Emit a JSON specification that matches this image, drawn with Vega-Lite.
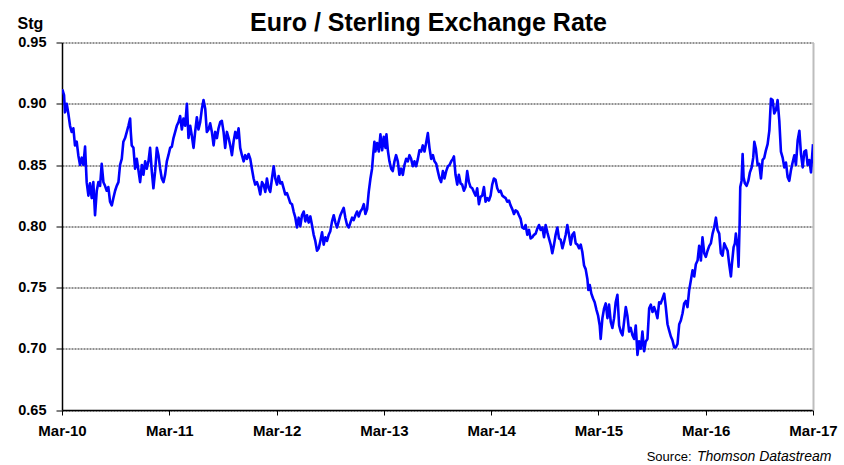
{
  "$schema": "https://vega.github.io/schema/vega-lite/v6.json",
  "autosize": {"type": "none"},
  "width": 751,
  "height": 367.5,
  "padding": {"left": 62, "top": 42.5, "right": 31, "bottom": 55},
  "background": "white",
  "config": {"view": {"stroke": null}, "font": "Liberation Sans"},
  "title": {"text": "Euro / Sterling Exchange Rate", "font": "Liberation Sans", "fontSize": 25, "fontWeight": "bold", "color": "#000000", "anchor": "middle", "offset": 10, "dx": -9, "dy": 31},
  "data": {"values": [
    {"t":2010.162,"v":0.911},{"t":2010.168,"v":0.911},{"t":2010.181,"v":0.907},{"t":2010.190,"v":0.893},{"t":2010.206,"v":0.900},{"t":2010.221,"v":0.892},{"t":2010.237,"v":0.882},{"t":2010.252,"v":0.877},{"t":2010.268,"v":0.880},{"t":2010.283,"v":0.866},{"t":2010.299,"v":0.869},{"t":2010.314,"v":0.858},{"t":2010.330,"v":0.850},{"t":2010.346,"v":0.856},{"t":2010.361,"v":0.850},{"t":2010.377,"v":0.865},{"t":2010.392,"v":0.836},{"t":2010.408,"v":0.825},{"t":2010.423,"v":0.835},{"t":2010.439,"v":0.823},{"t":2010.454,"v":0.836},{"t":2010.470,"v":0.809},{"t":2010.486,"v":0.829},{"t":2010.501,"v":0.836},{"t":2010.517,"v":0.833},{"t":2010.532,"v":0.851},{"t":2010.548,"v":0.836},{"t":2010.563,"v":0.833},{"t":2010.579,"v":0.829},{"t":2010.594,"v":0.832},{"t":2010.610,"v":0.820},{"t":2010.626,"v":0.817},{"t":2010.641,"v":0.823},{"t":2010.657,"v":0.829},{"t":2010.672,"v":0.833},{"t":2010.688,"v":0.836},{"t":2010.703,"v":0.850},{"t":2010.719,"v":0.855},{"t":2010.734,"v":0.869},{"t":2010.750,"v":0.872},{"t":2010.766,"v":0.877},{"t":2010.781,"v":0.882},{"t":2010.797,"v":0.888},{"t":2010.803,"v":0.877},{"t":2010.812,"v":0.866},{"t":2010.828,"v":0.864},{"t":2010.843,"v":0.847},{"t":2010.859,"v":0.855},{"t":2010.874,"v":0.846},{"t":2010.890,"v":0.836},{"t":2010.906,"v":0.850},{"t":2010.921,"v":0.842},{"t":2010.937,"v":0.853},{"t":2010.952,"v":0.847},{"t":2010.968,"v":0.853},{"t":2010.983,"v":0.864},{"t":2010.999,"v":0.845},{"t":2011.014,"v":0.831},{"t":2011.030,"v":0.845},{"t":2011.046,"v":0.864},{"t":2011.061,"v":0.858},{"t":2011.077,"v":0.847},{"t":2011.092,"v":0.839},{"t":2011.108,"v":0.836},{"t":2011.123,"v":0.842},{"t":2011.139,"v":0.853},{"t":2011.154,"v":0.858},{"t":2011.170,"v":0.864},{"t":2011.186,"v":0.865},{"t":2011.201,"v":0.872},{"t":2011.217,"v":0.877},{"t":2011.232,"v":0.882},{"t":2011.248,"v":0.885},{"t":2011.263,"v":0.890},{"t":2011.279,"v":0.879},{"t":2011.294,"v":0.888},{"t":2011.310,"v":0.882},{"t":2011.326,"v":0.900},{"t":2011.341,"v":0.872},{"t":2011.357,"v":0.882},{"t":2011.372,"v":0.874},{"t":2011.388,"v":0.864},{"t":2011.403,"v":0.877},{"t":2011.419,"v":0.889},{"t":2011.434,"v":0.879},{"t":2011.450,"v":0.885},{"t":2011.466,"v":0.896},{"t":2011.481,"v":0.903},{"t":2011.497,"v":0.896},{"t":2011.512,"v":0.877},{"t":2011.528,"v":0.879},
    {"t":2011.543,"v":0.884},{"t":2011.559,"v":0.877},{"t":2011.575,"v":0.866},{"t":2011.590,"v":0.877},{"t":2011.606,"v":0.872},{"t":2011.621,"v":0.880},{"t":2011.637,"v":0.885},{"t":2011.652,"v":0.886},{"t":2011.668,"v":0.877},{"t":2011.683,"v":0.864},{"t":2011.699,"v":0.877},{"t":2011.715,"v":0.872},{"t":2011.730,"v":0.866},{"t":2011.746,"v":0.858},{"t":2011.761,"v":0.869},{"t":2011.777,"v":0.877},{"t":2011.792,"v":0.872},{"t":2011.808,"v":0.880},{"t":2011.823,"v":0.864},{"t":2011.839,"v":0.858},{"t":2011.855,"v":0.853},{"t":2011.870,"v":0.858},{"t":2011.886,"v":0.855},{"t":2011.901,"v":0.859},{"t":2011.917,"v":0.855},{"t":2011.932,"v":0.847},{"t":2011.948,"v":0.839},{"t":2011.963,"v":0.834},{"t":2011.979,"v":0.836},{"t":2011.995,"v":0.832},{"t":2012.010,"v":0.826},{"t":2012.026,"v":0.836},{"t":2012.041,"v":0.834},{"t":2012.057,"v":0.828},{"t":2012.072,"v":0.839},{"t":2012.088,"v":0.831},{"t":2012.103,"v":0.828},{"t":2012.119,"v":0.839},{"t":2012.135,"v":0.849},{"t":2012.150,"v":0.839},{"t":2012.166,"v":0.834},{"t":2012.181,"v":0.841},{"t":2012.197,"v":0.835},{"t":2012.212,"v":0.836},{"t":2012.228,"v":0.831},{"t":2012.243,"v":0.826},{"t":2012.259,"v":0.827},{"t":2012.275,"v":0.823},{"t":2012.290,"v":0.819},{"t":2012.306,"v":0.818},{"t":2012.321,"v":0.812},{"t":2012.337,"v":0.807},{"t":2012.352,"v":0.799},{"t":2012.368,"v":0.807},{"t":2012.383,"v":0.800},{"t":2012.399,"v":0.809},{"t":2012.415,"v":0.812},{"t":2012.430,"v":0.804},{"t":2012.446,"v":0.809},{"t":2012.461,"v":0.803},{"t":2012.477,"v":0.808},{"t":2012.492,"v":0.801},{"t":2012.508,"v":0.793},{"t":2012.523,"v":0.788},{"t":2012.539,"v":0.780},{"t":2012.555,"v":0.782},{"t":2012.570,"v":0.788},{"t":2012.586,"v":0.795},{"t":2012.601,"v":0.785},{"t":2012.617,"v":0.791},{"t":2012.632,"v":0.788},{"t":2012.648,"v":0.793},{"t":2012.663,"v":0.796},{"t":2012.679,"v":0.804},{"t":2012.695,"v":0.809},{"t":2012.710,"v":0.803},{"t":2012.726,"v":0.799},{"t":2012.741,"v":0.804},{"t":2012.757,"v":0.809},{"t":2012.772,"v":0.812},{"t":2012.788,"v":0.815},{"t":2012.803,"v":0.807},{"t":2012.819,"v":0.801},{"t":2012.835,"v":0.799},{"t":2012.850,"v":0.803},{"t":2012.866,"v":0.807},{"t":2012.881,"v":0.805},{"t":2012.897,"v":0.809},{"t":2012.912,"v":0.812},{"t":2012.928,"v":0.808},
    {"t":2012.943,"v":0.812},{"t":2012.959,"v":0.814},{"t":2012.975,"v":0.818},{"t":2012.990,"v":0.810},{"t":2013.006,"v":0.814},{"t":2013.021,"v":0.828},{"t":2013.037,"v":0.839},{"t":2013.052,"v":0.847},{"t":2013.062,"v":0.858},{"t":2013.074,"v":0.869},{"t":2013.083,"v":0.861},{"t":2013.099,"v":0.868},{"t":2013.115,"v":0.861},{"t":2013.130,"v":0.875},{"t":2013.146,"v":0.862},{"t":2013.161,"v":0.873},{"t":2013.177,"v":0.864},{"t":2013.186,"v":0.875},{"t":2013.199,"v":0.862},{"t":2013.214,"v":0.853},{"t":2013.230,"v":0.847},{"t":2013.245,"v":0.845},{"t":2013.261,"v":0.853},{"t":2013.276,"v":0.858},{"t":2013.292,"v":0.853},{"t":2013.307,"v":0.842},{"t":2013.323,"v":0.847},{"t":2013.339,"v":0.842},{"t":2013.354,"v":0.850},{"t":2013.370,"v":0.855},{"t":2013.385,"v":0.853},{"t":2013.401,"v":0.858},{"t":2013.416,"v":0.855},{"t":2013.432,"v":0.849},{"t":2013.447,"v":0.853},{"t":2013.463,"v":0.849},{"t":2013.479,"v":0.855},{"t":2013.494,"v":0.862},{"t":2013.510,"v":0.861},{"t":2013.525,"v":0.866},{"t":2013.541,"v":0.861},{"t":2013.556,"v":0.868},{"t":2013.572,"v":0.876},{"t":2013.587,"v":0.864},{"t":2013.603,"v":0.855},{"t":2013.619,"v":0.858},{"t":2013.634,"v":0.853},{"t":2013.650,"v":0.851},{"t":2013.665,"v":0.845},{"t":2013.681,"v":0.839},{"t":2013.696,"v":0.836},{"t":2013.712,"v":0.845},{"t":2013.727,"v":0.839},{"t":2013.743,"v":0.845},{"t":2013.759,"v":0.849},{"t":2013.774,"v":0.850},{"t":2013.790,"v":0.853},{"t":2013.805,"v":0.855},{"t":2013.815,"v":0.857},{"t":2013.830,"v":0.842},{"t":2013.846,"v":0.834},{"t":2013.861,"v":0.842},{"t":2013.877,"v":0.835},{"t":2013.892,"v":0.834},{"t":2013.908,"v":0.829},{"t":2013.923,"v":0.832},{"t":2013.939,"v":0.845},{"t":2013.955,"v":0.836},{"t":2013.970,"v":0.832},{"t":2013.986,"v":0.831},{"t":2014.001,"v":0.828},{"t":2014.017,"v":0.825},{"t":2014.032,"v":0.831},{"t":2014.048,"v":0.818},{"t":2014.063,"v":0.824},{"t":2014.079,"v":0.825},{"t":2014.095,"v":0.832},{"t":2014.110,"v":0.820},{"t":2014.126,"v":0.823},{"t":2014.141,"v":0.821},{"t":2014.157,"v":0.825},{"t":2014.172,"v":0.834},{"t":2014.188,"v":0.839},{"t":2014.203,"v":0.838},{"t":2014.219,"v":0.831},{"t":2014.235,"v":0.828},{"t":2014.250,"v":0.829},{"t":2014.266,"v":0.825},{"t":2014.281,"v":0.824},{"t":2014.297,"v":0.823},{"t":2014.312,"v":0.820},{"t":2014.328,"v":0.821},{"t":2014.343,"v":0.817},{"t":2014.359,"v":0.814},{"t":2014.375,"v":0.810},{"t":2014.390,"v":0.813},{"t":2014.406,"v":0.812},{"t":2014.421,"v":0.809},
    {"t":2014.437,"v":0.806},{"t":2014.452,"v":0.799},{"t":2014.468,"v":0.798},{"t":2014.483,"v":0.801},{"t":2014.499,"v":0.793},{"t":2014.515,"v":0.797},{"t":2014.530,"v":0.790},{"t":2014.546,"v":0.791},{"t":2014.561,"v":0.793},{"t":2014.577,"v":0.794},{"t":2014.592,"v":0.798},{"t":2014.608,"v":0.801},{"t":2014.623,"v":0.797},{"t":2014.639,"v":0.799},{"t":2014.655,"v":0.791},{"t":2014.670,"v":0.801},{"t":2014.686,"v":0.795},{"t":2014.701,"v":0.790},{"t":2014.717,"v":0.785},{"t":2014.732,"v":0.778},{"t":2014.748,"v":0.785},{"t":2014.763,"v":0.793},{"t":2014.779,"v":0.799},{"t":2014.795,"v":0.790},{"t":2014.810,"v":0.789},{"t":2014.826,"v":0.782},{"t":2014.841,"v":0.787},{"t":2014.857,"v":0.793},{"t":2014.872,"v":0.801},{"t":2014.888,"v":0.793},{"t":2014.903,"v":0.785},{"t":2014.919,"v":0.793},{"t":2014.935,"v":0.795},{"t":2014.950,"v":0.786},{"t":2014.966,"v":0.785},{"t":2014.981,"v":0.782},{"t":2014.997,"v":0.785},{"t":2015.012,"v":0.779},{"t":2015.028,"v":0.768},{"t":2015.043,"v":0.765},{"t":2015.059,"v":0.757},{"t":2015.068,"v":0.748},{"t":2015.081,"v":0.752},{"t":2015.096,"v":0.745},{"t":2015.112,"v":0.741},{"t":2015.127,"v":0.738},{"t":2015.143,"v":0.732},{"t":2015.159,"v":0.727},{"t":2015.174,"v":0.719},{"t":2015.183,"v":0.708},{"t":2015.199,"v":0.725},{"t":2015.215,"v":0.733},{"t":2015.230,"v":0.737},{"t":2015.246,"v":0.725},{"t":2015.261,"v":0.736},{"t":2015.277,"v":0.722},{"t":2015.292,"v":0.717},{"t":2015.308,"v":0.725},{"t":2015.323,"v":0.738},{"t":2015.339,"v":0.744},{"t":2015.355,"v":0.719},{"t":2015.370,"v":0.714},{"t":2015.386,"v":0.711},{"t":2015.401,"v":0.722},{"t":2015.417,"v":0.734},{"t":2015.432,"v":0.727},{"t":2015.448,"v":0.714},{"t":2015.463,"v":0.717},{"t":2015.479,"v":0.711},{"t":2015.495,"v":0.708},{"t":2015.510,"v":0.719},{"t":2015.526,"v":0.695},{"t":2015.541,"v":0.706},{"t":2015.557,"v":0.700},{"t":2015.572,"v":0.714},{"t":2015.588,"v":0.698},{"t":2015.603,"v":0.706},{"t":2015.619,"v":0.708},{"t":2015.635,"v":0.733},{"t":2015.650,"v":0.736},{"t":2015.666,"v":0.730},{"t":2015.681,"v":0.734},{"t":2015.697,"v":0.730},{"t":2015.712,"v":0.725},{"t":2015.728,"v":0.738},
    {"t":2015.743,"v":0.737},{"t":2015.775,"v":0.745},{"t":2015.790,"v":0.734},{"t":2015.806,"v":0.720},{"t":2015.821,"v":0.715},{"t":2015.837,"v":0.710},{"t":2015.852,"v":0.707},{"t":2015.868,"v":0.701},{"t":2015.883,"v":0.701},{"t":2015.899,"v":0.704},{"t":2015.915,"v":0.720},{"t":2015.930,"v":0.723},{"t":2015.946,"v":0.729},{"t":2015.961,"v":0.737},{"t":2015.977,"v":0.739},{"t":2015.992,"v":0.734},{"t":2016.008,"v":0.748},{"t":2016.024,"v":0.756},{"t":2016.039,"v":0.764},{"t":2016.055,"v":0.759},{"t":2016.070,"v":0.769},{"t":2016.086,"v":0.772},{"t":2016.101,"v":0.784},{"t":2016.117,"v":0.772},{"t":2016.132,"v":0.791},{"t":2016.148,"v":0.778},{"t":2016.163,"v":0.775},{"t":2016.179,"v":0.780},{"t":2016.195,"v":0.784},{"t":2016.210,"v":0.786},{"t":2016.226,"v":0.794},{"t":2016.241,"v":0.799},{"t":2016.257,"v":0.807},{"t":2016.272,"v":0.797},{"t":2016.288,"v":0.794},{"t":2016.303,"v":0.778},{"t":2016.319,"v":0.776},{"t":2016.335,"v":0.786},{"t":2016.350,"v":0.783},{"t":2016.366,"v":0.780},{"t":2016.381,"v":0.769},{"t":2016.397,"v":0.759},{"t":2016.406,"v":0.769},{"t":2016.422,"v":0.783},{"t":2016.434,"v":0.786},{"t":2016.443,"v":0.794},{"t":2016.459,"v":0.783},{"t":2016.468,"v":0.767},{"t":2016.478,"v":0.802},{"t":2016.484,"v":0.832},{"t":2016.496,"v":0.837},{"t":2016.506,"v":0.859},{"t":2016.515,"v":0.840},{"t":2016.527,"v":0.835},{"t":2016.543,"v":0.833},{"t":2016.559,"v":0.837},{"t":2016.574,"v":0.844},{"t":2016.590,"v":0.848},{"t":2016.605,"v":0.856},{"t":2016.615,"v":0.869},{"t":2016.630,"v":0.863},{"t":2016.646,"v":0.850},{"t":2016.661,"v":0.851},{"t":2016.677,"v":0.839},{"t":2016.692,"v":0.854},{"t":2016.708,"v":0.856},{"t":2016.723,"v":0.862},{"t":2016.739,"v":0.867},{"t":2016.755,"v":0.878},{"t":2016.770,"v":0.904},{"t":2016.786,"v":0.903},{"t":2016.801,"v":0.892},{"t":2016.817,"v":0.895},{"t":2016.832,"v":0.903},{"t":2016.848,"v":0.886},{"t":2016.863,"v":0.861},{"t":2016.879,"v":0.856},{"t":2016.895,"v":0.848},{"t":2016.910,"v":0.852},{"t":2016.926,"v":0.840},{"t":2016.941,"v":0.837},{"t":2016.957,"v":0.846},{"t":2016.972,"v":0.852},{"t":2016.988,"v":0.858},{"t":2017.003,"v":0.850},{"t":2017.019,"v":0.870},{"t":2017.035,"v":0.878},{"t":2017.050,"v":0.859},{"t":2017.066,"v":0.848},{"t":2017.081,"v":0.861},{"t":2017.097,"v":0.862},{"t":2017.112,"v":0.850},{"t":2017.128,"v":0.854},{"t":2017.143,"v":0.844},{"t":2017.153,"v":0.856},{"t":2017.162,"v":0.867}
  ]},
  "resolve": {"axis": {"y": "independent"}},
  "layer": [
    {
      "mark": {"type": "line", "color": "#0000FF", "strokeWidth": 2.6, "strokeJoin": "round", "clip": true},
      "encoding": {
        "x": {"field": "t", "type": "quantitative",
          "scale": {"domain": [2010.162, 2017.162], "nice": false, "zero": false},
          "axis": {
            "values": [2010.162, 2011.162, 2012.162, 2013.162, 2014.162, 2015.162, 2016.162, 2017.162],
            "labelExpr": "'Mar-' + format(floor(datum.value) % 100, '02d')",
            "grid": false, "domainColor": "#000000", "domainWidth": 1.5,
            "tickColor": "#000000", "tickSize": 5, "tickWidth": 1,
            "labelFont": "Liberation Sans", "labelFontSize": 15, "labelFontWeight": "bold", "labelColor": "#000000",
            "labelPadding": 8, "labelOverlap": false, "labelBound": false, "labelFlush": false,
            "title": "Thomson Datastream", "titleFont": "Liberation Sans", "titleFontSize": 14, "titleFontWeight": "normal", "titleFontStyle": "italic", "titleColor": "#000000",
            "titleAnchor": null, "titleAlign": "right", "titleBaseline": "alphabetic", "titleX": 769, "titleY": 50, "titleAngle": 0
          }},
        "y": {"field": "v", "type": "quantitative",
          "scale": {"domain": [0.65, 0.95], "nice": false, "zero": false},
          "axis": {
            "values": [0.65, 0.70, 0.75, 0.80, 0.85, 0.90, 0.95], "format": ".2f",
            "grid": true, "gridColor": "#222222", "gridDash": [2, 1], "gridWidth": 1,
            "domainColor": "#000000", "domainWidth": 1.5,
            "tickColor": "#000000", "tickSize": 6, "tickWidth": 1,
            "labelFont": "Liberation Sans", "labelFontSize": 14.5, "labelFontWeight": "bold", "labelColor": "#000000",
            "labelPadding": 10,
            "title": "Stg", "titleFont": "Liberation Sans", "titleFontSize": 16, "titleFontWeight": "bold", "titleColor": "#000000",
            "titleAngle": 0, "titleAnchor": null, "titleAlign": "left", "titleBaseline": "alphabetic", "titleX": -45, "titleY": -14.2
          }}
      }
    },
    {
      "mark": {"type": "line", "opacity": 0},
      "encoding": {
        "x": {"field": "t", "type": "quantitative"},
        "y": {"field": "v", "type": "quantitative",
          "axis": {
            "orient": "right", "grid": false, "ticks": false, "labels": false,
            "domainColor": "#BDBDBD", "domainWidth": 2,
            "title": "Source:", "titleFont": "Liberation Sans", "titleFontSize": 13, "titleFontWeight": "normal", "titleColor": "#000000",
            "titleAngle": 0, "titleAnchor": null, "titleAlign": "right", "titleBaseline": "alphabetic", "titleX": -122, "titleY": 417.5
          }}
      }
    }
  ]
}
